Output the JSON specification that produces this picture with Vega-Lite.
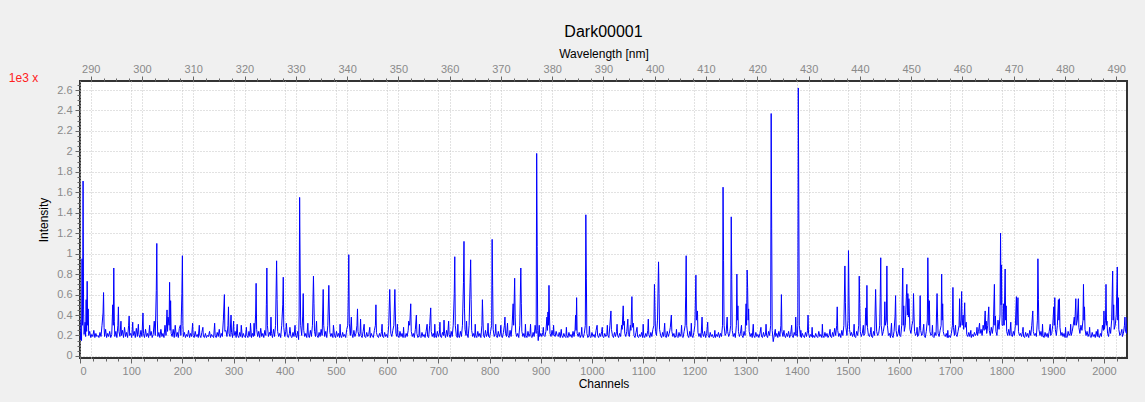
{
"$schema": "https://vega.github.io/schema/vega-lite/v6.json",
"width": 1047,
"height": 277,
"autosize": {"type": "none"},
"padding": {"left": 80, "top": 81, "right": 18, "bottom": 44},
"background": "#f0f0f0",
"title": {"text": "Dark00001", "font": "Liberation Sans", "fontSize": 16, "fontWeight": "normal", "color": "#000000", "anchor": "middle", "offset": 7},
"config": {
  "view": {"stroke": "#333333", "strokeWidth": 2, "fill": "#ffffff"},
  "axis": {"labelFont": "Liberation Sans", "titleFont": "Liberation Sans", "labelFontSize": 11, "labelColor": "#8a8a8a", "titleFontSize": 12, "titleFontWeight": "normal", "titleColor": "#000000", "gridColor": "#c4c4c4", "gridDash": [1, 2], "gridWidth": 1, "tickColor": "#666666", "domain": false}
},
"resolve": {"scale": {"x": "independent", "y": "independent"}, "axis": {"x": "independent", "y": "independent"}},
"layer": [
{
  "data": {"values": [
{"c":0,"v":0.35},{"c":1,"v":0.16},{"c":2,"v":0.22},{"c":3,"v":0.15},{"c":4,"v":0.95},{"c":5,"v":0.3},{"c":6,"v":1.71},{"c":7,"v":0.45},{"c":8,"v":0.21},{"c":10,"v":0.33},{"c":11,"v":0.19},{"c":12,"v":0.55},{"c":13,"v":0.24},{"c":14,"v":0.73},{"c":15,"v":0.3},{"c":16,"v":0.46},{"c":17,"v":0.2},{"c":19,"v":0.24},{"c":21,"v":0.18},{"c":23,"v":0.21},{"c":25,"v":0.19},{"c":27,"v":0.25},{"c":29,"v":0.18},{"c":31,"v":0.22},{"c":33,"v":0.19},{"c":35,"v":0.2},{"c":37,"v":0.18},{"c":39,"v":0.23},{"c":41,"v":0.19},{"c":43,"v":0.3},{"c":45,"v":0.42},{"c":46,"v":0.62},{"c":47,"v":0.28},{"c":48,"v":0.19},{"c":50,"v":0.26},{"c":52,"v":0.18},{"c":54,"v":0.22},{"c":56,"v":0.19},{"c":58,"v":0.24},{"c":60,"v":0.18},{"c":62,"v":0.21},{"c":64,"v":0.5},{"c":65,"v":0.3},{"c":66,"v":0.86},{"c":67,"v":0.34},{"c":68,"v":0.19},{"c":70,"v":0.24},{"c":72,"v":0.18},{"c":74,"v":0.3},{"c":75,"v":0.48},{"c":76,"v":0.24},{"c":78,"v":0.19},{"c":80,"v":0.34},{"c":81,"v":0.2},{"c":83,"v":0.25},{"c":85,"v":0.18},{"c":87,"v":0.28},{"c":89,"v":0.19},{"c":91,"v":0.23},{"c":93,"v":0.18},{"c":95,"v":0.3},{"c":96,"v":0.39},{"c":97,"v":0.2},{"c":99,"v":0.22},
{"c":101,"v":0.18},{"c":103,"v":0.33},{"c":104,"v":0.2},{"c":106,"v":0.24},{"c":108,"v":0.18},{"c":110,"v":0.27},{"c":112,"v":0.19},{"c":114,"v":0.31},{"c":115,"v":0.21},{"c":117,"v":0.18},{"c":119,"v":0.25},{"c":121,"v":0.19},{"c":123,"v":0.42},{"c":124,"v":0.22},{"c":126,"v":0.18},{"c":128,"v":0.26},{"c":130,"v":0.19},{"c":132,"v":0.22},{"c":134,"v":0.18},{"c":136,"v":0.3},{"c":137,"v":0.2},{"c":139,"v":0.24},{"c":141,"v":0.18},{"c":143,"v":0.21},{"c":145,"v":0.34},{"c":147,"v":0.2},{"c":149,"v":0.64},{"c":150,"v":1.1},{"c":151,"v":0.35},{"c":152,"v":0.19},{"c":154,"v":0.23},{"c":156,"v":0.18},{"c":158,"v":0.26},{"c":160,"v":0.19},{"c":162,"v":0.22},{"c":164,"v":0.18},{"c":166,"v":0.3},{"c":168,"v":0.2},{"c":170,"v":0.45},{"c":171,"v":0.24},{"c":172,"v":0.38},{"c":174,"v":0.3},{"c":175,"v":0.72},{"c":176,"v":0.25},{"c":177,"v":0.54},{"c":178,"v":0.22},{"c":180,"v":0.19},{"c":182,"v":0.26},{"c":184,"v":0.18},{"c":186,"v":0.3},{"c":188,"v":0.19},{"c":190,"v":0.23},{"c":192,"v":0.18},{"c":194,"v":0.27},{"c":196,"v":0.3},{"c":197,"v":0.2},{"c":199,"v":0.61},{"c":200,"v":0.98},
{"c":201,"v":0.3},{"c":202,"v":0.19},{"c":204,"v":0.23},{"c":206,"v":0.18},{"c":208,"v":0.21},{"c":210,"v":0.19},{"c":212,"v":0.25},{"c":214,"v":0.18},{"c":216,"v":0.22},{"c":218,"v":0.19},{"c":220,"v":0.32},{"c":221,"v":0.2},{"c":223,"v":0.18},{"c":225,"v":0.24},{"c":227,"v":0.19},{"c":229,"v":0.21},{"c":231,"v":0.18},{"c":233,"v":0.3},{"c":234,"v":0.2},{"c":236,"v":0.18},{"c":238,"v":0.23},{"c":240,"v":0.28},{"c":241,"v":0.19},{"c":243,"v":0.18},{"c":245,"v":0.22},{"c":247,"v":0.18},{"c":249,"v":0.2},{"c":251,"v":0.19},{"c":253,"v":0.24},{"c":255,"v":0.18},{"c":257,"v":0.21},{"c":259,"v":0.19},{"c":261,"v":0.18},{"c":263,"v":0.32},{"c":264,"v":0.2},{"c":266,"v":0.18},{"c":268,"v":0.23},{"c":270,"v":0.19},{"c":272,"v":0.26},{"c":274,"v":0.18},{"c":276,"v":0.22},{"c":278,"v":0.19},{"c":280,"v":0.35},{"c":282,"v":0.6},{"c":283,"v":0.24},{"c":285,"v":0.25},{"c":287,"v":0.19},{"c":289,"v":0.3},{"c":290,"v":0.48},{"c":291,"v":0.22},{"c":293,"v":0.19},{"c":295,"v":0.4},{"c":296,"v":0.23},{"c":298,"v":0.18},{"c":300,"v":0.34},
{"c":301,"v":0.2},{"c":303,"v":0.24},{"c":305,"v":0.18},{"c":307,"v":0.31},{"c":308,"v":0.2},{"c":310,"v":0.18},{"c":312,"v":0.23},{"c":314,"v":0.19},{"c":315,"v":0.3},{"c":317,"v":0.18},{"c":319,"v":0.22},{"c":321,"v":0.19},{"c":323,"v":0.18},{"c":325,"v":0.28},{"c":326,"v":0.2},{"c":328,"v":0.18},{"c":330,"v":0.24},{"c":332,"v":0.19},{"c":333,"v":0.32},{"c":335,"v":0.18},{"c":337,"v":0.22},{"c":339,"v":0.19},{"c":340,"v":0.32},{"c":341,"v":0.2},{"c":343,"v":0.4},{"c":344,"v":0.71},{"c":345,"v":0.26},{"c":347,"v":0.19},{"c":349,"v":0.24},{"c":351,"v":0.18},{"c":353,"v":0.27},{"c":355,"v":0.19},{"c":357,"v":0.22},{"c":359,"v":0.18},{"c":361,"v":0.25},{"c":363,"v":0.2},{"c":364,"v":0.5},{"c":365,"v":0.86},{"c":366,"v":0.3},{"c":368,"v":0.19},{"c":370,"v":0.23},{"c":372,"v":0.2},{"c":373,"v":0.38},{"c":374,"v":0.22},{"c":376,"v":0.18},{"c":378,"v":0.26},{"c":380,"v":0.19},{"c":382,"v":0.3},{"c":384,"v":0.93},{"c":385,"v":0.55},{"c":386,"v":0.24},{"c":388,"v":0.19},{"c":390,"v":0.22},{"c":392,"v":0.18},{"c":394,"v":0.3},{"c":396,"v":0.5},{"c":397,"v":0.77},{"c":398,"v":0.28},{"c":400,"v":0.19},
{"c":402,"v":0.24},{"c":403,"v":0.32},{"c":405,"v":0.19},{"c":407,"v":0.18},{"c":409,"v":0.22},{"c":410,"v":0.28},{"c":412,"v":0.19},{"c":414,"v":0.18},{"c":416,"v":0.23},{"c":418,"v":0.19},{"c":420,"v":0.3},{"c":421,"v":0.2},{"c":423,"v":0.18},{"c":425,"v":0.24},{"c":427,"v":0.16},{"c":428,"v":0.4},{"c":429,"v":1.55},{"c":430,"v":0.85},{"c":431,"v":0.3},{"c":433,"v":0.2},{"c":435,"v":0.39},{"c":436,"v":0.61},{"c":437,"v":0.25},{"c":439,"v":0.19},{"c":441,"v":0.22},{"c":443,"v":0.18},{"c":445,"v":0.32},{"c":446,"v":0.2},{"c":448,"v":0.18},{"c":450,"v":0.25},{"c":452,"v":0.19},{"c":454,"v":0.3},{"c":456,"v":0.78},{"c":457,"v":0.51},{"c":458,"v":0.24},{"c":460,"v":0.19},{"c":462,"v":0.34},{"c":463,"v":0.2},{"c":465,"v":0.18},{"c":467,"v":0.23},{"c":469,"v":0.19},{"c":471,"v":0.26},{"c":473,"v":0.2},{"c":475,"v":0.65},{"c":476,"v":0.3},{"c":478,"v":0.19},{"c":480,"v":0.24},{"c":482,"v":0.18},{"c":484,"v":0.3},{"c":486,"v":0.69},{"c":487,"v":0.43},{"c":488,"v":0.23},{"c":490,"v":0.19},{"c":492,"v":0.22},{"c":494,"v":0.18},{"c":495,"v":0.3},{"c":497,"v":0.2},{"c":499,"v":0.18},
{"c":501,"v":0.24},{"c":503,"v":0.19},{"c":505,"v":0.22},{"c":507,"v":0.18},{"c":508,"v":0.31},{"c":509,"v":0.2},{"c":511,"v":0.18},{"c":513,"v":0.23},{"c":515,"v":0.19},{"c":517,"v":0.21},{"c":519,"v":0.18},{"c":521,"v":0.26},{"c":523,"v":0.3},{"c":524,"v":0.58},{"c":525,"v":0.99},{"c":526,"v":0.32},{"c":528,"v":0.2},{"c":530,"v":0.38},{"c":531,"v":0.22},{"c":533,"v":0.18},{"c":535,"v":0.25},{"c":537,"v":0.19},{"c":539,"v":0.22},{"c":541,"v":0.3},{"c":542,"v":0.46},{"c":543,"v":0.24},{"c":545,"v":0.19},{"c":547,"v":0.22},{"c":548,"v":0.36},{"c":549,"v":0.2},{"c":551,"v":0.18},{"c":553,"v":0.24},{"c":555,"v":0.31},{"c":556,"v":0.19},{"c":558,"v":0.18},{"c":560,"v":0.23},{"c":562,"v":0.19},{"c":564,"v":0.21},{"c":566,"v":0.28},{"c":567,"v":0.18},{"c":569,"v":0.22},{"c":571,"v":0.19},{"c":573,"v":0.18},{"c":575,"v":0.25},{"c":577,"v":0.3},{"c":578,"v":0.5},{"c":579,"v":0.23},{"c":581,"v":0.19},{"c":583,"v":0.18},{"c":585,"v":0.22},{"c":587,"v":0.19},{"c":589,"v":0.24},{"c":590,"v":0.31},{"c":591,"v":0.19},{"c":593,"v":0.18},{"c":595,"v":0.23},{"c":597,"v":0.19},{"c":599,"v":0.21},
{"c":601,"v":0.18},{"c":603,"v":0.3},{"c":605,"v":0.65},{"c":606,"v":0.44},{"c":607,"v":0.22},{"c":609,"v":0.19},{"c":611,"v":0.25},{"c":613,"v":0.3},{"c":615,"v":0.65},{"c":616,"v":0.41},{"c":617,"v":0.22},{"c":619,"v":0.19},{"c":620,"v":0.31},{"c":621,"v":0.2},{"c":623,"v":0.18},{"c":625,"v":0.24},{"c":627,"v":0.19},{"c":629,"v":0.22},{"c":631,"v":0.18},{"c":632,"v":0.28},{"c":633,"v":0.19},{"c":635,"v":0.18},{"c":637,"v":0.22},{"c":639,"v":0.19},{"c":641,"v":0.25},{"c":642,"v":0.34},{"c":644,"v":0.3},{"c":646,"v":0.51},{"c":647,"v":0.24},{"c":649,"v":0.19},{"c":651,"v":0.22},{"c":653,"v":0.18},{"c":655,"v":0.26},{"c":657,"v":0.4},{"c":658,"v":0.22},{"c":660,"v":0.18},{"c":662,"v":0.2},{"c":663,"v":0.31},{"c":664,"v":0.19},{"c":666,"v":0.18},{"c":668,"v":0.23},{"c":670,"v":0.19},{"c":672,"v":0.21},{"c":674,"v":0.18},{"c":676,"v":0.24},{"c":678,"v":0.31},{"c":679,"v":0.19},{"c":681,"v":0.18},{"c":683,"v":0.3},{"c":685,"v":0.47},{"c":686,"v":0.24},{"c":688,"v":0.19},{"c":690,"v":0.22},{"c":692,"v":0.18},{"c":693,"v":0.31},{"c":694,"v":0.2},{"c":696,"v":0.18},{"c":698,"v":0.24},{"c":700,"v":0.19},
{"c":702,"v":0.22},{"c":703,"v":0.33},{"c":704,"v":0.19},{"c":706,"v":0.18},{"c":708,"v":0.23},{"c":710,"v":0.2},{"c":711,"v":0.35},{"c":712,"v":0.22},{"c":714,"v":0.18},{"c":716,"v":0.25},{"c":718,"v":0.19},{"c":720,"v":0.34},{"c":721,"v":0.21},{"c":723,"v":0.18},{"c":725,"v":0.24},{"c":727,"v":0.19},{"c":729,"v":0.3},{"c":731,"v":0.61},{"c":732,"v":0.97},{"c":733,"v":0.3},{"c":735,"v":0.2},{"c":737,"v":0.18},{"c":738,"v":0.31},{"c":739,"v":0.2},{"c":741,"v":0.18},{"c":743,"v":0.24},{"c":745,"v":0.19},{"c":747,"v":0.3},{"c":749,"v":0.72},{"c":750,"v":1.12},{"c":751,"v":0.46},{"c":752,"v":0.26},{"c":754,"v":0.2},{"c":755,"v":0.34},{"c":756,"v":0.22},{"c":758,"v":0.18},{"c":760,"v":0.3},{"c":762,"v":0.72},{"c":763,"v":0.94},{"c":764,"v":0.55},{"c":765,"v":0.25},{"c":767,"v":0.19},{"c":769,"v":0.22},{"c":771,"v":0.18},{"c":772,"v":0.31},{"c":773,"v":0.2},{"c":775,"v":0.18},{"c":777,"v":0.24},{"c":779,"v":0.19},{"c":781,"v":0.22},{"c":783,"v":0.18},{"c":785,"v":0.3},{"c":786,"v":0.55},{"c":787,"v":0.36},{"c":788,"v":0.2},{"c":790,"v":0.18},{"c":792,"v":0.25},{"c":794,"v":0.19},{"c":796,"v":0.22},{"c":797,"v":0.32},{"c":798,"v":0.19},{"c":800,"v":0.18},
{"c":802,"v":0.24},{"c":804,"v":0.3},{"c":805,"v":1.14},{"c":806,"v":0.69},{"c":807,"v":0.26},{"c":809,"v":0.19},{"c":811,"v":0.22},{"c":812,"v":0.31},{"c":813,"v":0.2},{"c":815,"v":0.18},{"c":817,"v":0.24},{"c":819,"v":0.19},{"c":821,"v":0.22},{"c":822,"v":0.3},{"c":823,"v":0.19},{"c":825,"v":0.18},{"c":827,"v":0.23},{"c":829,"v":0.3},{"c":830,"v":0.38},{"c":831,"v":0.22},{"c":833,"v":0.19},{"c":835,"v":0.32},{"c":836,"v":0.2},{"c":838,"v":0.18},{"c":840,"v":0.25},{"c":842,"v":0.19},{"c":844,"v":0.3},{"c":846,"v":0.51},{"c":847,"v":0.3},{"c":849,"v":0.76},{"c":850,"v":0.38},{"c":851,"v":0.23},{"c":853,"v":0.19},{"c":855,"v":0.22},{"c":857,"v":0.18},{"c":859,"v":0.3},{"c":861,"v":0.86},{"c":862,"v":0.51},{"c":863,"v":0.24},{"c":865,"v":0.19},{"c":867,"v":0.22},{"c":869,"v":0.18},{"c":870,"v":0.31},{"c":871,"v":0.2},{"c":873,"v":0.18},{"c":875,"v":0.24},{"c":877,"v":0.19},{"c":879,"v":0.22},{"c":880,"v":0.31},{"c":881,"v":0.19},{"c":883,"v":0.18},{"c":885,"v":0.23},{"c":887,"v":0.19},{"c":889,"v":0.3},{"c":891,"v":0.22},{"c":892,"v":1.98},{"c":893,"v":1.07},{"c":894,"v":0.25},{"c":895,"v":0.15},{"c":897,"v":0.3},{"c":898,"v":0.19},{"c":900,"v":0.22},
{"c":902,"v":0.19},{"c":904,"v":0.23},{"c":905,"v":0.28},{"c":906,"v":0.2},{"c":908,"v":0.19},{"c":910,"v":0.24},{"c":912,"v":0.38},{"c":913,"v":0.25},{"c":914,"v":0.43},{"c":915,"v":0.3},{"c":916,"v":0.69},{"c":917,"v":0.38},{"c":918,"v":0.22},{"c":920,"v":0.19},{"c":922,"v":0.25},{"c":924,"v":0.2},{"c":925,"v":0.3},{"c":926,"v":0.21},{"c":928,"v":0.19},{"c":930,"v":0.24},{"c":932,"v":0.2},{"c":934,"v":0.19},{"c":936,"v":0.23},{"c":938,"v":0.18},{"c":940,"v":0.26},{"c":941,"v":0.2},{"c":943,"v":0.18},{"c":945,"v":0.22},{"c":947,"v":0.19},{"c":949,"v":0.18},{"c":950,"v":0.28},{"c":951,"v":0.2},{"c":953,"v":0.18},{"c":955,"v":0.23},{"c":957,"v":0.19},{"c":959,"v":0.21},{"c":961,"v":0.18},{"c":963,"v":0.24},{"c":965,"v":0.19},{"c":967,"v":0.26},{"c":968,"v":0.4},{"c":969,"v":0.25},{"c":970,"v":0.57},{"c":971,"v":0.22},{"c":973,"v":0.19},{"c":975,"v":0.23},{"c":977,"v":0.18},{"c":979,"v":0.21},{"c":980,"v":0.28},{"c":981,"v":0.19},{"c":983,"v":0.18},{"c":985,"v":0.22},{"c":987,"v":0.3},{"c":988,"v":1.38},{"c":989,"v":0.76},{"c":990,"v":0.22},{"c":992,"v":0.18},{"c":994,"v":0.2},{"c":995,"v":0.29},{"c":996,"v":0.19},{"c":998,"v":0.18},{"c":1000,"v":0.23},
{"c":1002,"v":0.19},{"c":1004,"v":0.21},{"c":1006,"v":0.18},{"c":1008,"v":0.25},{"c":1010,"v":0.3},{"c":1011,"v":0.2},{"c":1013,"v":0.18},{"c":1015,"v":0.22},{"c":1017,"v":0.19},{"c":1019,"v":0.24},{"c":1020,"v":0.28},{"c":1021,"v":0.19},{"c":1023,"v":0.18},{"c":1025,"v":0.22},{"c":1027,"v":0.19},{"c":1029,"v":0.21},{"c":1030,"v":0.3},{"c":1031,"v":0.2},{"c":1033,"v":0.18},{"c":1035,"v":0.3},{"c":1037,"v":0.44},{"c":1038,"v":0.26},{"c":1040,"v":0.2},{"c":1042,"v":0.18},{"c":1044,"v":0.23},{"c":1046,"v":0.19},{"c":1048,"v":0.24},{"c":1049,"v":0.31},{"c":1050,"v":0.2},{"c":1052,"v":0.18},{"c":1054,"v":0.22},{"c":1056,"v":0.19},{"c":1058,"v":0.3},{"c":1059,"v":0.26},{"c":1061,"v":0.49},{"c":1062,"v":0.3},{"c":1063,"v":0.34},{"c":1064,"v":0.22},{"c":1066,"v":0.19},{"c":1068,"v":0.24},{"c":1070,"v":0.36},{"c":1071,"v":0.21},{"c":1073,"v":0.19},{"c":1075,"v":0.3},{"c":1076,"v":0.25},{"c":1078,"v":0.58},{"c":1079,"v":0.28},{"c":1081,"v":0.32},{"c":1082,"v":0.2},{"c":1084,"v":0.18},{"c":1086,"v":0.23},{"c":1088,"v":0.28},{"c":1089,"v":0.19},{"c":1091,"v":0.18},{"c":1093,"v":0.21},{"c":1095,"v":0.19},{"c":1097,"v":0.23},{"c":1099,"v":0.18},{"c":1100,"v":0.31},
{"c":1101,"v":0.2},{"c":1103,"v":0.18},{"c":1105,"v":0.22},{"c":1107,"v":0.19},{"c":1109,"v":0.25},{"c":1110,"v":0.36},{"c":1111,"v":0.21},{"c":1113,"v":0.18},{"c":1115,"v":0.23},{"c":1117,"v":0.19},{"c":1119,"v":0.26},{"c":1121,"v":0.3},{"c":1122,"v":0.7},{"c":1123,"v":0.48},{"c":1124,"v":0.24},{"c":1126,"v":0.2},{"c":1128,"v":0.35},{"c":1130,"v":0.92},{"c":1131,"v":0.61},{"c":1132,"v":0.26},{"c":1134,"v":0.2},{"c":1136,"v":0.18},{"c":1138,"v":0.23},{"c":1140,"v":0.19},{"c":1142,"v":0.32},{"c":1143,"v":0.2},{"c":1145,"v":0.18},{"c":1147,"v":0.24},{"c":1149,"v":0.19},{"c":1151,"v":0.22},{"c":1153,"v":0.28},{"c":1155,"v":0.4},{"c":1156,"v":0.24},{"c":1158,"v":0.19},{"c":1160,"v":0.22},{"c":1162,"v":0.18},{"c":1164,"v":0.2},{"c":1165,"v":0.26},{"c":1166,"v":0.19},{"c":1168,"v":0.18},{"c":1170,"v":0.23},{"c":1172,"v":0.19},{"c":1174,"v":0.22},{"c":1175,"v":0.3},{"c":1176,"v":0.19},{"c":1178,"v":0.18},{"c":1180,"v":0.24},{"c":1182,"v":0.3},{"c":1183,"v":0.58},{"c":1184,"v":0.98},{"c":1185,"v":0.3},{"c":1187,"v":0.2},{"c":1189,"v":0.18},{"c":1191,"v":0.24},{"c":1193,"v":0.19},{"c":1194,"v":0.32},{"c":1195,"v":0.2},{"c":1197,"v":0.18},{"c":1199,"v":0.23},
{"c":1201,"v":0.3},{"c":1203,"v":0.79},{"c":1204,"v":0.35},{"c":1206,"v":0.44},{"c":1207,"v":0.23},{"c":1209,"v":0.19},{"c":1211,"v":0.22},{"c":1213,"v":0.18},{"c":1215,"v":0.38},{"c":1216,"v":0.22},{"c":1218,"v":0.19},{"c":1220,"v":0.24},{"c":1222,"v":0.18},{"c":1224,"v":0.22},{"c":1226,"v":0.33},{"c":1227,"v":0.2},{"c":1229,"v":0.18},{"c":1231,"v":0.23},{"c":1233,"v":0.19},{"c":1235,"v":0.21},{"c":1237,"v":0.18},{"c":1239,"v":0.19},{"c":1240,"v":0.25},{"c":1241,"v":0.18},{"c":1243,"v":0.21},{"c":1245,"v":0.19},{"c":1247,"v":0.23},{"c":1249,"v":0.18},{"c":1251,"v":0.22},{"c":1253,"v":0.19},{"c":1255,"v":0.3},{"c":1256,"v":1.65},{"c":1257,"v":0.93},{"c":1258,"v":0.3},{"c":1260,"v":0.2},{"c":1262,"v":0.22},{"c":1264,"v":0.38},{"c":1265,"v":0.24},{"c":1267,"v":0.19},{"c":1269,"v":0.22},{"c":1271,"v":0.3},{"c":1272,"v":1.36},{"c":1273,"v":0.75},{"c":1274,"v":0.25},{"c":1276,"v":0.19},{"c":1278,"v":0.22},{"c":1280,"v":0.18},{"c":1282,"v":0.3},{"c":1283,"v":0.8},{"c":1284,"v":0.35},{"c":1285,"v":0.49},{"c":1286,"v":0.24},{"c":1288,"v":0.19},{"c":1290,"v":0.22},{"c":1292,"v":0.3},{"c":1293,"v":0.2},{"c":1295,"v":0.18},{"c":1297,"v":0.24},{"c":1299,"v":0.2},
{"c":1301,"v":0.51},{"c":1302,"v":0.3},{"c":1303,"v":0.84},{"c":1304,"v":0.67},{"c":1305,"v":0.35},{"c":1306,"v":0.46},{"c":1307,"v":0.24},{"c":1309,"v":0.19},{"c":1311,"v":0.22},{"c":1313,"v":0.18},{"c":1315,"v":0.31},{"c":1316,"v":0.2},{"c":1318,"v":0.18},{"c":1320,"v":0.23},{"c":1322,"v":0.19},{"c":1324,"v":0.21},{"c":1326,"v":0.18},{"c":1328,"v":0.22},{"c":1330,"v":0.28},{"c":1331,"v":0.19},{"c":1333,"v":0.18},{"c":1335,"v":0.23},{"c":1337,"v":0.19},{"c":1339,"v":0.21},{"c":1340,"v":0.31},{"c":1341,"v":0.2},{"c":1343,"v":0.18},{"c":1345,"v":0.24},{"c":1347,"v":0.2},{"c":1349,"v":0.3},{"c":1350,"v":2.37},{"c":1351,"v":1.25},{"c":1352,"v":0.25},{"c":1354,"v":0.14},{"c":1356,"v":0.2},{"c":1358,"v":0.26},{"c":1359,"v":0.19},{"c":1361,"v":0.22},{"c":1363,"v":0.18},{"c":1365,"v":0.24},{"c":1367,"v":0.19},{"c":1369,"v":0.3},{"c":1370,"v":0.6},{"c":1371,"v":0.24},{"c":1373,"v":0.19},{"c":1375,"v":0.25},{"c":1376,"v":0.2},{"c":1378,"v":0.18},{"c":1380,"v":0.22},{"c":1382,"v":0.19},{"c":1384,"v":0.24},{"c":1386,"v":0.18},{"c":1388,"v":0.21},{"c":1390,"v":0.3},{"c":1391,"v":0.2},{"c":1393,"v":0.18},{"c":1395,"v":0.23},{"c":1397,"v":0.2},{"c":1398,"v":0.38},{"c":1399,"v":0.22},
{"c":1401,"v":0.19},{"c":1402,"v":0.3},{"c":1403,"v":2.62},{"c":1404,"v":1.42},{"c":1405,"v":0.3},{"c":1407,"v":0.19},{"c":1408,"v":0.25},{"c":1409,"v":0.18},{"c":1411,"v":0.22},{"c":1413,"v":0.19},{"c":1415,"v":0.18},{"c":1417,"v":0.23},{"c":1419,"v":0.19},{"c":1421,"v":0.25},{"c":1422,"v":0.4},{"c":1423,"v":0.22},{"c":1425,"v":0.18},{"c":1427,"v":0.21},{"c":1429,"v":0.19},{"c":1430,"v":0.28},{"c":1431,"v":0.18},{"c":1433,"v":0.2},{"c":1435,"v":0.18},{"c":1437,"v":0.22},{"c":1439,"v":0.19},{"c":1441,"v":0.18},{"c":1443,"v":0.24},{"c":1445,"v":0.19},{"c":1447,"v":0.21},{"c":1449,"v":0.18},{"c":1450,"v":0.31},{"c":1451,"v":0.2},{"c":1453,"v":0.18},{"c":1455,"v":0.23},{"c":1457,"v":0.19},{"c":1459,"v":0.22},{"c":1461,"v":0.18},{"c":1463,"v":0.2},{"c":1465,"v":0.26},{"c":1466,"v":0.19},{"c":1468,"v":0.18},{"c":1470,"v":0.23},{"c":1472,"v":0.19},{"c":1474,"v":0.27},{"c":1476,"v":0.2},{"c":1478,"v":0.3},{"c":1479,"v":0.48},{"c":1480,"v":0.25},{"c":1482,"v":0.19},{"c":1484,"v":0.22},{"c":1486,"v":0.18},{"c":1488,"v":0.25},{"c":1490,"v":0.2},{"c":1492,"v":0.3},{"c":1494,"v":0.88},{"c":1495,"v":0.52},{"c":1496,"v":0.28},{"c":1498,"v":0.2},{"c":1500,"v":0.35},
{"c":1501,"v":1.03},{"c":1502,"v":0.59},{"c":1503,"v":0.26},{"c":1505,"v":0.2},{"c":1507,"v":0.23},{"c":1509,"v":0.19},{"c":1511,"v":0.22},{"c":1512,"v":0.31},{"c":1513,"v":0.19},{"c":1515,"v":0.18},{"c":1517,"v":0.24},{"c":1519,"v":0.2},{"c":1521,"v":0.3},{"c":1522,"v":0.78},{"c":1523,"v":0.51},{"c":1524,"v":0.24},{"c":1526,"v":0.19},{"c":1528,"v":0.22},{"c":1530,"v":0.3},{"c":1531,"v":0.2},{"c":1533,"v":0.22},{"c":1535,"v":0.47},{"c":1536,"v":0.3},{"c":1537,"v":0.69},{"c":1538,"v":0.28},{"c":1540,"v":0.2},{"c":1542,"v":0.19},{"c":1544,"v":0.23},{"c":1545,"v":0.28},{"c":1546,"v":0.19},{"c":1548,"v":0.18},{"c":1550,"v":0.24},{"c":1552,"v":0.2},{"c":1554,"v":0.65},{"c":1555,"v":0.41},{"c":1556,"v":0.24},{"c":1558,"v":0.2},{"c":1560,"v":0.22},{"c":1562,"v":0.3},{"c":1563,"v":0.57},{"c":1564,"v":0.96},{"c":1565,"v":0.3},{"c":1567,"v":0.2},{"c":1569,"v":0.24},{"c":1571,"v":0.3},{"c":1572,"v":0.53},{"c":1573,"v":0.3},{"c":1575,"v":0.35},{"c":1576,"v":0.88},{"c":1577,"v":0.3},{"c":1579,"v":0.2},{"c":1581,"v":0.22},{"c":1583,"v":0.18},{"c":1585,"v":0.32},{"c":1586,"v":0.2},{"c":1588,"v":0.18},{"c":1590,"v":0.24},{"c":1592,"v":0.39},{"c":1593,"v":0.59},{"c":1594,"v":0.25},{"c":1596,"v":0.19},{"c":1598,"v":0.22},{"c":1600,"v":0.3},
{"c":1601,"v":0.2},{"c":1603,"v":0.19},{"c":1605,"v":0.3},{"c":1607,"v":0.86},{"c":1608,"v":0.3},{"c":1609,"v":0.49},{"c":1610,"v":0.24},{"c":1612,"v":0.3},{"c":1613,"v":0.45},{"c":1615,"v":0.7},{"c":1616,"v":0.4},{"c":1617,"v":0.61},{"c":1618,"v":0.38},{"c":1619,"v":0.56},{"c":1620,"v":0.43},{"c":1621,"v":0.26},{"c":1623,"v":0.22},{"c":1625,"v":0.3},{"c":1627,"v":0.35},{"c":1628,"v":0.61},{"c":1629,"v":0.39},{"c":1630,"v":0.24},{"c":1632,"v":0.2},{"c":1634,"v":0.22},{"c":1635,"v":0.28},{"c":1636,"v":0.19},{"c":1638,"v":0.2},{"c":1640,"v":0.3},{"c":1641,"v":0.59},{"c":1642,"v":0.25},{"c":1644,"v":0.2},{"c":1646,"v":0.22},{"c":1648,"v":0.31},{"c":1649,"v":0.2},{"c":1651,"v":0.18},{"c":1653,"v":0.24},{"c":1655,"v":0.35},{"c":1656,"v":0.96},{"c":1657,"v":0.56},{"c":1658,"v":0.3},{"c":1659,"v":0.54},{"c":1660,"v":0.24},{"c":1662,"v":0.2},{"c":1664,"v":0.22},{"c":1665,"v":0.3},{"c":1666,"v":0.19},{"c":1668,"v":0.18},{"c":1670,"v":0.23},{"c":1672,"v":0.2},{"c":1674,"v":0.61},{"c":1675,"v":0.38},{"c":1676,"v":0.22},{"c":1678,"v":0.19},{"c":1680,"v":0.25},{"c":1682,"v":0.3},{"c":1683,"v":0.8},{"c":1684,"v":0.35},{"c":1685,"v":0.51},{"c":1686,"v":0.24},{"c":1688,"v":0.2},{"c":1690,"v":0.19},{"c":1692,"v":0.22},{"c":1694,"v":0.18},{"c":1695,"v":0.25},{"c":1696,"v":0.18},{"c":1698,"v":0.2},{"c":1700,"v":0.18},
{"c":1702,"v":0.22},{"c":1704,"v":0.3},{"c":1705,"v":0.67},{"c":1706,"v":0.28},{"c":1708,"v":0.2},{"c":1710,"v":0.3},{"c":1711,"v":0.21},{"c":1713,"v":0.19},{"c":1715,"v":0.24},{"c":1717,"v":0.3},{"c":1718,"v":0.56},{"c":1719,"v":0.28},{"c":1721,"v":0.35},{"c":1722,"v":0.63},{"c":1723,"v":0.3},{"c":1725,"v":0.4},{"c":1726,"v":0.26},{"c":1728,"v":0.52},{"c":1729,"v":0.28},{"c":1731,"v":0.33},{"c":1732,"v":0.21},{"c":1734,"v":0.19},{"c":1736,"v":0.23},{"c":1738,"v":0.19},{"c":1740,"v":0.25},{"c":1741,"v":0.18},{"c":1743,"v":0.21},{"c":1745,"v":0.19},{"c":1747,"v":0.23},{"c":1749,"v":0.2},{"c":1751,"v":0.22},{"c":1752,"v":0.28},{"c":1753,"v":0.2},{"c":1755,"v":0.24},{"c":1757,"v":0.32},{"c":1758,"v":0.22},{"c":1760,"v":0.26},{"c":1762,"v":0.2},{"c":1764,"v":0.3},{"c":1766,"v":0.25},{"c":1768,"v":0.44},{"c":1769,"v":0.26},{"c":1770,"v":0.34},{"c":1771,"v":0.22},{"c":1773,"v":0.3},{"c":1775,"v":0.48},{"c":1776,"v":0.25},{"c":1778,"v":0.2},{"c":1780,"v":0.28},{"c":1782,"v":0.22},{"c":1784,"v":0.3},{"c":1786,"v":0.7},{"c":1787,"v":0.3},{"c":1788,"v":0.39},{"c":1789,"v":0.24},{"c":1791,"v":0.2},{"c":1793,"v":0.35},{"c":1795,"v":0.26},{"c":1797,"v":0.4},{"c":1798,"v":1.2},{"c":1799,"v":0.5},{"c":1800,"v":0.89},
{"c":1801,"v":0.3},{"c":1803,"v":0.3},{"c":1804,"v":0.51},{"c":1805,"v":0.3},{"c":1807,"v":0.85},{"c":1808,"v":0.35},{"c":1809,"v":0.49},{"c":1810,"v":0.24},{"c":1812,"v":0.2},{"c":1814,"v":0.26},{"c":1816,"v":0.2},{"c":1818,"v":0.33},{"c":1819,"v":0.21},{"c":1821,"v":0.19},{"c":1823,"v":0.24},{"c":1825,"v":0.2},{"c":1827,"v":0.3},{"c":1829,"v":0.58},{"c":1830,"v":0.3},{"c":1832,"v":0.57},{"c":1833,"v":0.24},{"c":1835,"v":0.2},{"c":1837,"v":0.22},{"c":1839,"v":0.19},{"c":1841,"v":0.24},{"c":1842,"v":0.28},{"c":1843,"v":0.19},{"c":1845,"v":0.18},{"c":1847,"v":0.23},{"c":1849,"v":0.19},{"c":1851,"v":0.22},{"c":1853,"v":0.18},{"c":1855,"v":0.25},{"c":1857,"v":0.2},{"c":1859,"v":0.3},{"c":1861,"v":0.44},{"c":1862,"v":0.24},{"c":1864,"v":0.2},{"c":1866,"v":0.22},{"c":1868,"v":0.19},{"c":1870,"v":0.35},{"c":1871,"v":0.95},{"c":1872,"v":0.55},{"c":1873,"v":0.26},{"c":1875,"v":0.2},{"c":1877,"v":0.24},{"c":1879,"v":0.19},{"c":1880,"v":0.31},{"c":1881,"v":0.2},{"c":1883,"v":0.18},{"c":1885,"v":0.23},{"c":1887,"v":0.19},{"c":1889,"v":0.22},{"c":1891,"v":0.18},{"c":1893,"v":0.24},{"c":1895,"v":0.31},{"c":1896,"v":0.2},{"c":1898,"v":0.22},{"c":1900,"v":0.3},
{"c":1902,"v":0.48},{"c":1903,"v":0.3},{"c":1904,"v":0.57},{"c":1905,"v":0.26},{"c":1907,"v":0.2},{"c":1909,"v":0.3},{"c":1911,"v":0.55},{"c":1912,"v":0.35},{"c":1913,"v":0.56},{"c":1914,"v":0.28},{"c":1916,"v":0.2},{"c":1918,"v":0.23},{"c":1920,"v":0.19},{"c":1922,"v":0.22},{"c":1924,"v":0.18},{"c":1925,"v":0.28},{"c":1926,"v":0.19},{"c":1928,"v":0.18},{"c":1930,"v":0.24},{"c":1932,"v":0.2},{"c":1934,"v":0.22},{"c":1935,"v":0.31},{"c":1936,"v":0.2},{"c":1938,"v":0.24},{"c":1940,"v":0.3},{"c":1942,"v":0.38},{"c":1943,"v":0.3},{"c":1945,"v":0.56},{"c":1946,"v":0.3},{"c":1948,"v":0.35},{"c":1950,"v":0.56},{"c":1951,"v":0.28},{"c":1953,"v":0.22},{"c":1955,"v":0.3},{"c":1957,"v":0.25},{"c":1959,"v":0.35},{"c":1960,"v":0.7},{"c":1961,"v":0.35},{"c":1962,"v":0.48},{"c":1963,"v":0.26},{"c":1965,"v":0.2},{"c":1967,"v":0.24},{"c":1969,"v":0.19},{"c":1971,"v":0.22},{"c":1972,"v":0.28},{"c":1973,"v":0.19},{"c":1975,"v":0.18},{"c":1977,"v":0.23},{"c":1979,"v":0.19},{"c":1981,"v":0.21},{"c":1983,"v":0.18},{"c":1985,"v":0.24},{"c":1987,"v":0.19},{"c":1988,"v":0.26},{"c":1989,"v":0.2},{"c":1991,"v":0.18},{"c":1993,"v":0.22},{"c":1995,"v":0.19},{"c":1997,"v":0.3},{"c":1999,"v":0.25},{"c":2000,"v":0.44},
{"c":2001,"v":0.26},{"c":2003,"v":0.35},{"c":2004,"v":0.7},{"c":2005,"v":0.3},{"c":2006,"v":0.34},{"c":2007,"v":0.22},{"c":2009,"v":0.19},{"c":2011,"v":0.28},{"c":2013,"v":0.22},{"c":2015,"v":0.35},{"c":2017,"v":0.83},{"c":2018,"v":0.35},{"c":2019,"v":0.5},{"c":2020,"v":0.26},{"c":2022,"v":0.3},{"c":2024,"v":0.4},{"c":2026,"v":0.87},{"c":2027,"v":0.35},{"c":2028,"v":0.57},{"c":2029,"v":0.26},{"c":2031,"v":0.2},{"c":2033,"v":0.22},{"c":2035,"v":0.26},{"c":2036,"v":0.19},{"c":2038,"v":0.22},{"c":2040,"v":0.3},{"c":2041,"v":0.38},{"c":2042,"v":0.24},{"c":2044,"v":0.22},{"c":2045,"v":0.38}
  ]},
  "mark": {"type": "line", "color": "#0000ff", "strokeWidth": 1, "clip": true},
  "encoding": {
    "x": {"field": "c", "type": "quantitative", "scale": {"domain": [0, 2045], "nice": false, "zero": false},
      "axis": {"orient": "bottom", "title": "Channels", "format": "d", "values": [0,100,200,300,400,500,600,700,800,900,1000,1100,1200,1300,1400,1500,1600,1700,1800,1900,2000], "grid": true, "tickSize": 5, "labelPadding": 2, "titlePadding": 2}},
    "y": {"field": "v", "type": "quantitative", "scale": {"domain": [-0.02, 2.688], "nice": false, "zero": false},
      "axis": {"orient": "left", "title": "Intensity", "format": "~g", "values": [0,0.2,0.4,0.6,0.8,1,1.2,1.4,1.6,1.8,2,2.2,2.4,2.6], "grid": true, "tickSize": 5, "labelPadding": 3, "titlePadding": 6}}
  }
},
{
  "data": {"values": [{"w": 290}, {"w": 490}]},
  "mark": {"type": "point", "opacity": 0},
  "encoding": {
    "x": {"field": "w", "type": "quantitative", "scale": {"domain": [287.91, 492.1], "nice": false, "zero": false},
      "axis": {"orient": "top", "title": "Wavelength [nm]", "format": "d", "values": [290,300,310,320,330,340,350,360,370,380,390,400,410,420,430,440,450,460,470,480,490], "grid": true, "tickSize": 5, "labelPadding": 2, "titlePadding": 3}}
  }
},
{
  "data": {"values": [{"c": 0, "v": 0}]},
  "mark": {"type": "point", "opacity": 0},
  "encoding": {
    "x": {"field": "c", "type": "quantitative", "scale": {"domain": [0, 2045], "nice": false, "zero": false},
      "axis": {"orient": "bottom", "title": null, "labels": false, "grid": false, "tickSize": 3, "values": [0,25,50,75,100,125,150,175,200,225,250,275,300,325,350,375,400,425,450,475,500,525,550,575,600,625,650,675,700,725,750,775,800,825,850,875,900,925,950,975,1000,1025,1050,1075,1100,1125,1150,1175,1200,1225,1250,1275,1300,1325,1350,1375,1400,1425,1450,1475,1500,1525,1550,1575,1600,1625,1650,1675,1700,1725,1750,1775,1800,1825,1850,1875,1900,1925,1950,1975,2000,2025]}},
    "y": {"field": "v", "type": "quantitative", "scale": {"domain": [-0.02, 2.688], "nice": false, "zero": false},
      "axis": {"orient": "left", "labels": false, "grid": false, "tickSize": 3, "values": [0,0.05,0.1,0.15,0.2,0.25,0.3,0.35,0.4,0.45,0.5,0.55,0.6,0.65,0.7,0.75,0.8,0.85,0.9,0.95,1,1.05,1.1,1.15,1.2,1.25,1.3,1.35,1.4,1.45,1.5,1.55,1.6,1.65,1.7,1.75,1.8,1.85,1.9,1.95,2,2.05,2.1,2.15,2.2,2.25,2.3,2.35,2.4,2.45,2.5,2.55,2.6,2.65],
        "title": "1e3 x", "titleColor": "#ff2020", "titleAngle": 0, "titleX": -57, "titleY": -4, "titleAlign": "center", "titleBaseline": "middle", "titleFontSize": 12}}
  }
},
{
  "data": {"values": [{"w": 290}]},
  "mark": {"type": "point", "opacity": 0},
  "encoding": {
    "x": {"field": "w", "type": "quantitative", "scale": {"domain": [287.91, 492.1], "nice": false, "zero": false},
      "axis": {"orient": "top", "title": null, "labels": false, "grid": false, "tickSize": 3, "values": [287.5,290,292.5,295,297.5,300,302.5,305,307.5,310,312.5,315,317.5,320,322.5,325,327.5,330,332.5,335,337.5,340,342.5,345,347.5,350,352.5,355,357.5,360,362.5,365,367.5,370,372.5,375,377.5,380,382.5,385,387.5,390,392.5,395,397.5,400,402.5,405,407.5,410,412.5,415,417.5,420,422.5,425,427.5,430,432.5,435,437.5,440,442.5,445,447.5,450,452.5,455,457.5,460,462.5,465,467.5,470,472.5,475,477.5,480,482.5,485,487.5,490,492.5]}}
  }
}
]
}
